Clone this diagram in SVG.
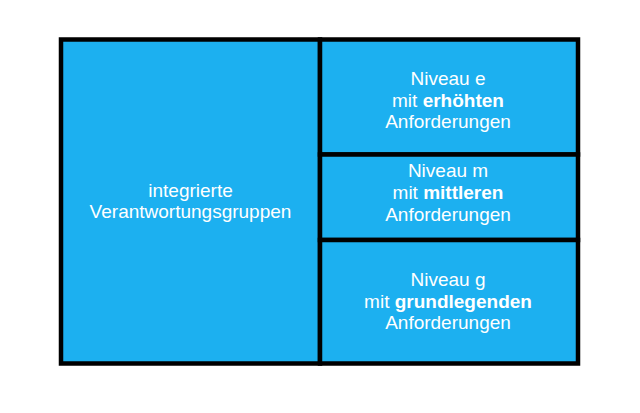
<svg xmlns="http://www.w3.org/2000/svg" width="640" height="413" viewBox="0 0 640 413">
<style>
.cell{fill:#1CB0F0;stroke:#000;stroke-width:4.5}
text{font-family:"Liberation Sans",Arial,sans-serif;font-size:19px;fill:#fff;text-anchor:middle}
.b{font-weight:bold}
</style>
<rect width="640" height="413" fill="#fff"/>
<g id="integrierte">
<rect class="cell" x="61" y="39.5" width="259" height="324"/>
<text x="190.5" y="197">integrierte</text>
<text x="190.5" y="218">Verantwortungsgruppen</text>
</g>
<g id="niveau-e">
<rect class="cell" x="320" y="39.5" width="258" height="115"/>
<text x="448" y="85">Niveau e</text>
<text x="448" y="106.5">mit <tspan class="b">erhöhten</tspan></text>
<text x="448" y="127.5">Anforderungen</text>
</g>
<g id="niveau-m">
<rect class="cell" x="320" y="154.5" width="258" height="85.5"/>
<text x="448" y="177">Niveau m</text>
<text x="448" y="199">mit <tspan class="b">mittleren</tspan></text>
<text x="448" y="221">Anforderungen</text>
</g>
<g id="niveau-g">
<rect class="cell" x="320" y="240" width="258" height="123.5"/>
<text x="448" y="286">Niveau g</text>
<text x="448" y="307.5">mit <tspan class="b">grundlegenden</tspan></text>
<text x="448" y="328.5">Anforderungen</text>
</g>
<g id="connectors"></g>
</svg>
